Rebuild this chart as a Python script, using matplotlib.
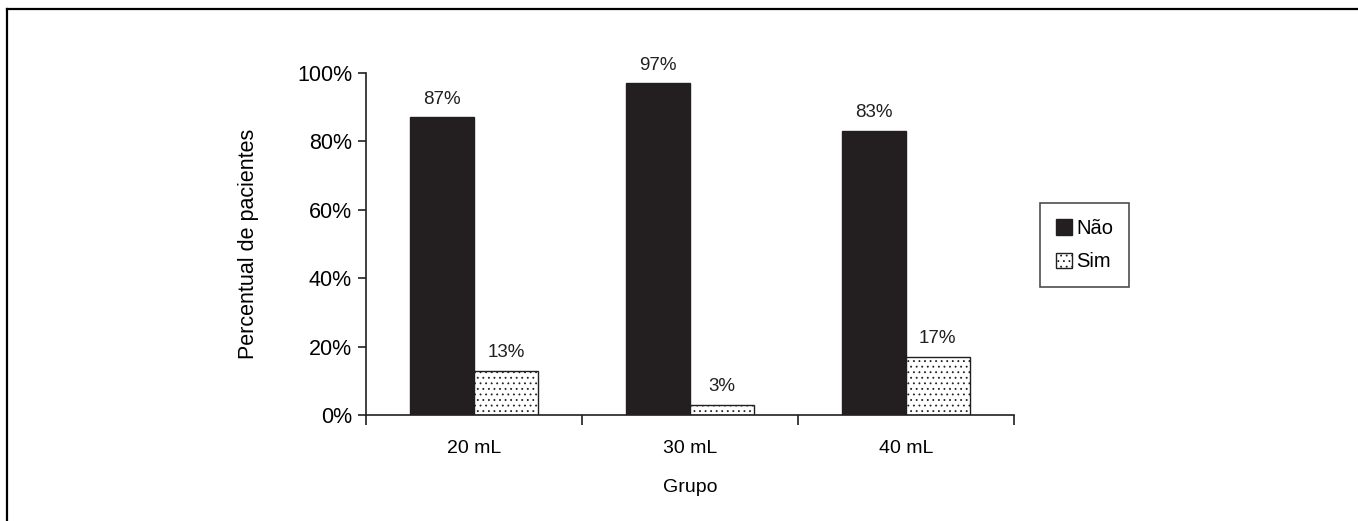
import matplotlib
matplotlib.use("Agg")
import matplotlib.pyplot as plt
from matplotlib.lines import Line2D
from matplotlib.patches import Patch
import numpy as np

plt.rcParams['font.family'] = ['Liberation Sans', 'DejaVu Sans']
plt.rcParams['hatch.linewidth'] = 0.6

groups = ["20 mL", "30 mL", "40 mL"]
nao = [87, 97, 83]
sim = [13, 3, 17]
series_names = ["Não", "Sim"]
yticks = [0, 20, 40, 60, 80, 100]
ytick_labels = ["0%", "20%", "40%", "60%", "80%", "100%"]

W, H = 1358, 521
fig = plt.figure(figsize=(W / 100, H / 100), dpi=100)
ax = fig.add_axes([366 / W, 1 - 415 / H, (1014 - 366) / W, (415 - 73) / H])

ink = "#231f20"
x = np.arange(len(groups))
bw = 0.295
b1 = ax.bar(x - bw / 2, nao, bw, color=ink, edgecolor=ink, linewidth=1)
b2 = ax.bar(x + bw / 2, sim, bw, color="white", edgecolor=ink, linewidth=1, hatch="...")

for rects, vals in ((b1, nao), (b2, sim)):
    for r, v in zip(rects, vals):
        ax.annotate(f"{v}%", (r.get_x() + r.get_width() / 2, r.get_height()),
                    xytext=(0, 7), textcoords="offset points",
                    ha="center", va="bottom", fontsize=13.5, color=ink)

ax.set_xlim(-0.5, len(groups) - 0.5)
ax.set_ylim(0, 100)
ax.spines['top'].set_visible(False)
ax.spines['right'].set_visible(False)
for s in ('left', 'bottom'):
    ax.spines[s].set_color(ink)
    ax.spines[s].set_linewidth(1.2)

ax.set_yticks(yticks)
ax.set_yticklabels(ytick_labels, fontsize=15.5)
ax.tick_params(axis='y', direction='out', length=6, width=1.2, color=ink, pad=4)

ax.set_xticks(np.arange(len(groups) + 1) - 0.5)
ax.set_xticklabels([])
ax.tick_params(axis='x', which='major', direction='out', length=7, width=1.2, color=ink)
ax.set_xticks(x, minor=True)
ax.set_xticklabels(groups, minor=True, fontsize=14)
ax.tick_params(axis='x', which='minor', length=0, pad=18)

ax.set_ylabel("Percentual de pacientes", fontsize=15.5, labelpad=27)
ax.set_xlabel("Grupo", fontsize=14, labelpad=16)

handles = [Patch(facecolor=ink, edgecolor=ink),
           Patch(facecolor="white", edgecolor=ink, hatch="...")]
leg = fig.legend(handles, series_names, loc="upper left",
                 bbox_to_anchor=(1040 / W, 1 - 203 / H), fontsize=14.5,
                 frameon=True, fancybox=False, handlelength=0.8, handleheight=0.8,
                 handletextpad=0.2, borderpad=0.8, labelspacing=0.7, borderaxespad=0)
leg.get_frame().set_edgecolor(ink)
leg.get_frame().set_linewidth(1.2)

# outer frame
fig.add_artist(Line2D([7 / W, 1], [1 - 9 / H, 1 - 9 / H], color="black", lw=1.6, transform=fig.transFigure))
fig.add_artist(Line2D([7 / W, 7 / W], [0, 1 - 9 / H], color="black", lw=1.6, transform=fig.transFigure))

fig.savefig("out.png", dpi=100)
